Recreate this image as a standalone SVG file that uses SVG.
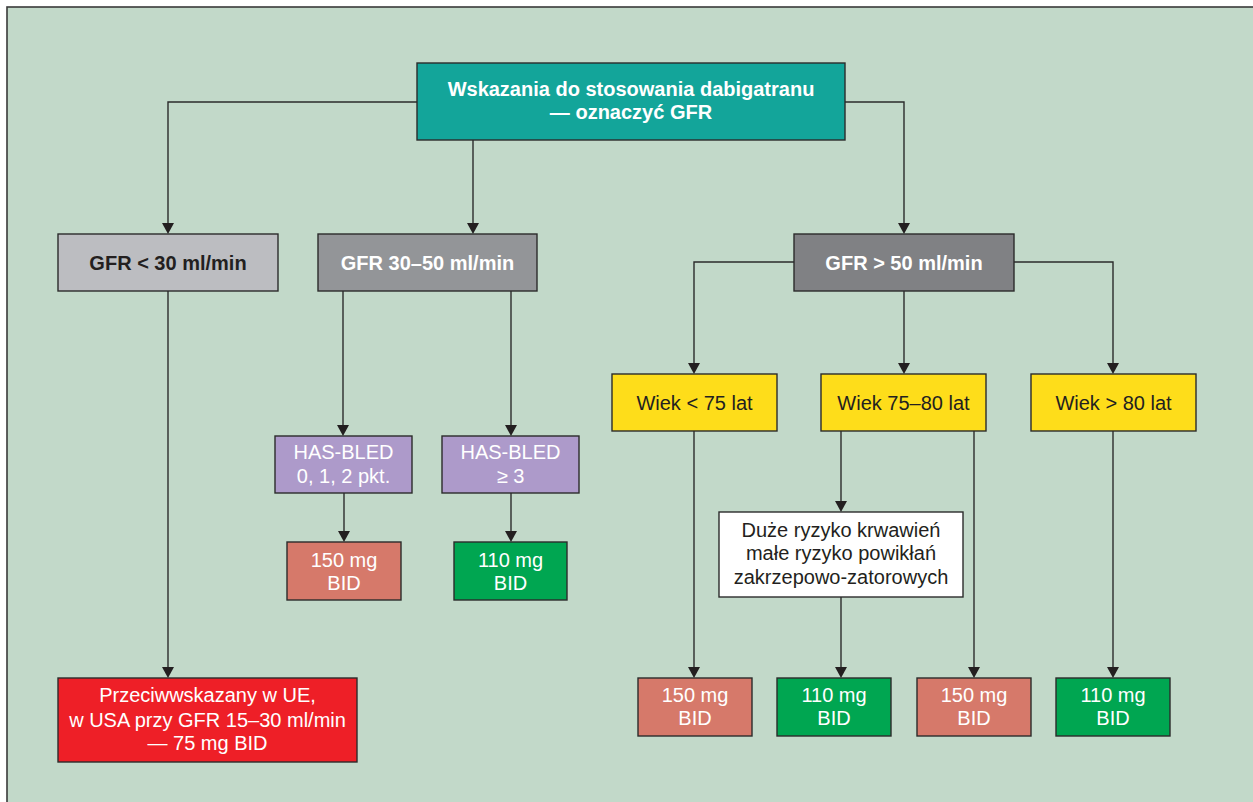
<svg xmlns="http://www.w3.org/2000/svg" width="1253" height="802" viewBox="0 0 1253 802">
<defs>
<style>
.box{stroke:#2b2b2b;stroke-width:1.4}
.t{font-family:"Liberation Sans",Arial,Helvetica,sans-serif;font-size:20px;text-anchor:middle}
.b{font-weight:bold}
.w{fill:#ffffff}
.d{fill:#231f20}
.c{fill:none;stroke:#2b2b2b;stroke-width:1.4}
</style>
</defs>
<rect x="0" y="0" width="1253" height="802" fill="#ffffff"/>
<rect x="7" y="7" width="1260" height="810" fill="#c2d9c9" stroke="#3a3a3a" stroke-width="1.6"/>

<g id="connectors">
<polyline class="c" points="417,102 168,102 168,223"/>
<line class="c" x1="473" y1="140" x2="473" y2="223"/>
<polyline class="c" points="845,102 904,102 904,223"/>
<line class="c" x1="168" y1="291" x2="168" y2="667"/>
<line class="c" x1="343" y1="291" x2="343" y2="425"/>
<line class="c" x1="511" y1="291" x2="511" y2="425"/>
<line class="c" x1="344" y1="493" x2="344" y2="531"/>
<line class="c" x1="511" y1="493" x2="511" y2="531"/>
<polyline class="c" points="794,262 694,262 694,363"/>
<line class="c" x1="904" y1="291" x2="904" y2="363"/>
<polyline class="c" points="1014,262 1113,262 1113,363"/>
<line class="c" x1="694" y1="431" x2="694" y2="667"/>
<line class="c" x1="841" y1="431" x2="841" y2="501"/>
<line class="c" x1="841" y1="597" x2="841" y2="667"/>
<line class="c" x1="974" y1="431" x2="974" y2="667"/>
<line class="c" x1="1113" y1="431" x2="1113" y2="667"/>
<g fill="#231f20">
<path d="M162,223 L174,223 L168,234 Z"/>
<path d="M467,223 L479,223 L473,234 Z"/>
<path d="M898,223 L910,223 L904,234 Z"/>
<path d="M162,667 L174,667 L168,678 Z"/>
<path d="M337,425 L349,425 L343,436 Z"/>
<path d="M505,425 L517,425 L511,436 Z"/>
<path d="M338,531 L350,531 L344,542 Z"/>
<path d="M505,531 L517,531 L511,542 Z"/>
<path d="M688,363 L700,363 L694,374 Z"/>
<path d="M898,363 L910,363 L904,374 Z"/>
<path d="M1107,363 L1119,363 L1113,374 Z"/>
<path d="M688,667 L700,667 L694,678 Z"/>
<path d="M835,501 L847,501 L841,512 Z"/>
<path d="M835,667 L847,667 L841,678 Z"/>
<path d="M968,667 L980,667 L974,678 Z"/>
<path d="M1107,667 L1119,667 L1113,678 Z"/>
</g>
</g>

<g id="root">
<rect class="box" x="417" y="63" width="428" height="77" fill="#13a59a"/>
<text class="t b w" x="631" y="96">Wskazania do stosowania dabigatranu</text>
<text class="t b w" x="631" y="119">— oznaczyć GFR</text>
</g>

<g id="gfr-lt30">
<rect class="box" x="58" y="234" width="220" height="57" fill="#bcbdc1"/>
<text class="t b d" x="168" y="270">GFR &lt; 30 ml/min</text>
</g>
<g id="gfr-30-50">
<rect class="box" x="318" y="234" width="219" height="57" fill="#939598"/>
<text class="t b w" x="427.5" y="270">GFR 30–50 ml/min</text>
</g>
<g id="gfr-gt50">
<rect class="box" x="794" y="234" width="220" height="57" fill="#808184"/>
<text class="t b w" x="904" y="270">GFR &gt; 50 ml/min</text>
</g>

<g id="hasbled-low">
<rect class="box" x="275" y="436" width="137" height="57" fill="#ad9aca"/>
<text class="t w" x="343.5" y="459">HAS-BLED</text>
<text class="t w" x="343.5" y="483">0, 1, 2 pkt.</text>
</g>
<g id="hasbled-high">
<rect class="box" x="442" y="436" width="137" height="57" fill="#ad9aca"/>
<text class="t w" x="510.5" y="459">HAS-BLED</text>
<text class="t w" x="510.5" y="483">≥ 3</text>
</g>
<g id="dose-150-a">
<rect class="box" x="287" y="542" width="114" height="58" fill="#d6796a"/>
<text class="t w" x="344" y="567">150 mg</text>
<text class="t w" x="344" y="590">BID</text>
</g>
<g id="dose-110-a">
<rect class="box" x="454" y="542" width="113" height="58" fill="#00a651"/>
<text class="t w" x="510.5" y="567">110 mg</text>
<text class="t w" x="510.5" y="590">BID</text>
</g>

<g id="wiek-lt75">
<rect class="box" x="612" y="374" width="165" height="57" fill="#fedd1a"/>
<text class="t d" x="694.5" y="410">Wiek &lt; 75 lat</text>
</g>
<g id="wiek-75-80">
<rect class="box" x="821" y="374" width="165" height="57" fill="#fedd1a"/>
<text class="t d" x="903.5" y="410">Wiek 75–80 lat</text>
</g>
<g id="wiek-gt80">
<rect class="box" x="1031" y="374" width="165" height="57" fill="#fedd1a"/>
<text class="t d" x="1113.5" y="410">Wiek &gt; 80 lat</text>
</g>

<g id="ryzyko">
<rect class="box" x="719" y="512" width="244" height="85" fill="#ffffff"/>
<text class="t d" x="841" y="537">Duże ryzyko krwawień</text>
<text class="t d" x="841" y="560">małe ryzyko powikłań</text>
<text class="t d" x="841" y="584">zakrzepowo-zatorowych</text>
</g>

<g id="przeciwwskazany">
<rect class="box" x="58" y="678" width="299" height="84" fill="#ee1f27"/>
<text class="t w" x="207.5" y="702">Przeciwwskazany w UE,</text>
<text class="t w" x="207.5" y="727">w USA przy GFR 15–30 ml/min</text>
<text class="t w" x="207.5" y="750">— 75 mg BID</text>
</g>

<g id="dose-150-b">
<rect class="box" x="638" y="678" width="114" height="58" fill="#d6796a"/>
<text class="t w" x="695" y="702">150 mg</text>
<text class="t w" x="695" y="725">BID</text>
</g>
<g id="dose-110-b">
<rect class="box" x="777" y="678" width="114" height="58" fill="#00a651"/>
<text class="t w" x="834" y="702">110 mg</text>
<text class="t w" x="834" y="725">BID</text>
</g>
<g id="dose-150-c">
<rect class="box" x="917" y="678" width="114" height="58" fill="#d6796a"/>
<text class="t w" x="974" y="702">150 mg</text>
<text class="t w" x="974" y="725">BID</text>
</g>
<g id="dose-110-c">
<rect class="box" x="1056" y="678" width="114" height="58" fill="#00a651"/>
<text class="t w" x="1113" y="702">110 mg</text>
<text class="t w" x="1113" y="725">BID</text>
</g>
</svg>
